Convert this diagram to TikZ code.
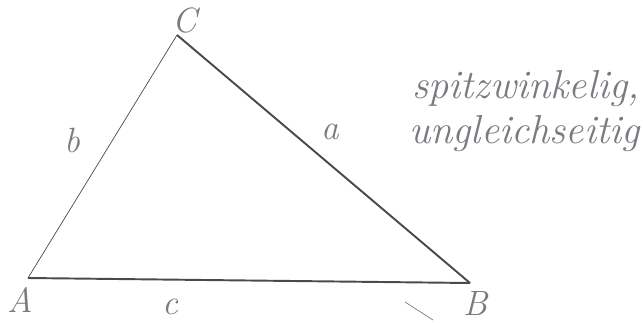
\documentclass[tikz,border=0pt]{standalone}
\usepackage{fontspec}
\definecolor{pencil}{HTML}{4A4A4A}
\definecolor{ink}{HTML}{7A7A80}
\tikzset{
  side/.style={draw=pencil, line width=1.1pt},
  thinside/.style={draw=pencil, line width=0.4pt},
  hand/.style={text=ink, font=\fontsize{20}{24}\selectfont\itshape, inner sep=0pt},
  note/.style={hand, font=\fontsize{23}{27}\selectfont\itshape, anchor=base east}
}
\begin{document}
\begin{tikzpicture}[x=0.02cm, y=-0.02cm]
\useasboundingbox (0,0) rectangle (643,322);
\coordinate (A) at (28,278);
\coordinate (B) at (470,283);
\coordinate (C) at (177,35);
\draw[side] (A) -- (B);
\draw[side] (C) -- (B);
\draw[thinside] (A) -- (C);
\node[hand] (lA) at (20,300) {A};
\node[hand] (lB) at (476,303) {B};
\node[hand] (lC) at (185,20) {C};
\node[hand] (la) at (330,132) {a};
\node[hand] (lb) at (72,140) {b};
\node[hand] (lc) at (170,307) {c};
\node[note] (t1) at (640,98) {spitzwinkelig,};
\node[note] (t2) at (640,143) {ungleichseitig};
\draw[thinside, draw=ink] (405,302) -- (433,320);
\end{tikzpicture}
\end{document}
